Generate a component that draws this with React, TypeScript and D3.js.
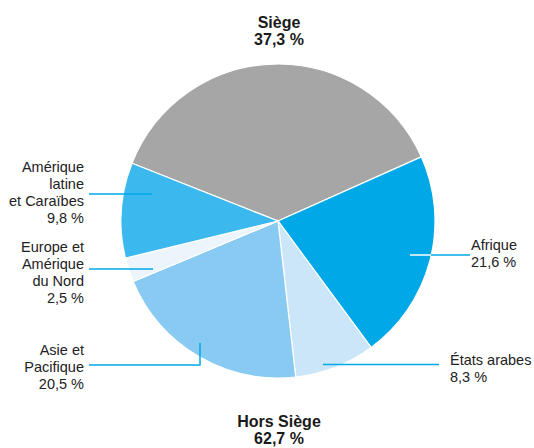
import React from "react";
import * as d3 from "d3";

const categories = ["Siège", "Afrique", "États arabes", "Asie et Pacifique", "Europe et Amérique du Nord", "Amérique latine et Caraïbes"];
const values = [37.3, 21.6, 8.3, 20.5, 2.5, 9.8];
const colors = ["#a6a6a6", "#00a8e8", "#cbe6f8", "#88caf2", "#ecf5fc", "#3bb9ee"];
const labelLines = [
  [],
  ["Afrique", "21,6 %"],
  ["États arabes", "8,3 %"],
  ["Asie et", "Pacifique", "20,5 %"],
  ["Europe et", "Amérique", "du Nord", "2,5 %"],
  ["Amérique", "latine", "et Caraïbes", "9,8 %"],
];
const titleTop = ["Siège", "37,3 %"];
const titleBottom = ["Hors Siège", "62,7 %"];

const W = 534, H = 448;
const cx = 278, cy = 221, R = 157;
const start = (-68.4 * Math.PI) / 180;

const layout: any[] = [
  null,
  { x: 471, y: 250, anchor: "start", line: [[410, 255], [470, 255]], inner: 431 },
  { x: 450, y: 365, anchor: "start", line: [[323, 364.5], [439, 364.5]] },
  { x: 84, y: 355, anchor: "end", line: [[89, 365], [200, 365], [200, 343]] },
  { x: 84, y: 252, anchor: "end", line: [[89, 269], [153, 269]] },
  { x: 84, y: 172, anchor: "end", line: [[89, 194], [152, 194]] },
];

export default function App() {
  const pie = d3.pie<number>().sort(null).value((d) => d).startAngle(start).endAngle(start + 2 * Math.PI);
  const arcs = pie(values);
  const arc = d3.arc<d3.PieArcDatum<number>>().innerRadius(0).outerRadius(R);
  const font = "'Liberation Sans', Arial, sans-serif";
  return (
    <svg width={W} height={H} style={{ position: "absolute", left: 0, top: 0, background: "#fff" }}>
      <g transform={`translate(${cx},${cy})`}>
        {arcs.map((a, i) => (
          <path key={i} d={arc(a) || ""} fill={colors[i]} stroke="#fff" strokeWidth={1.2} />
        ))}
      </g>
      {layout.map((l, i) => {
        if (!l) return null;
        const pts = l.line;
        const path = d3.line()(pts) || "";
        return (
          <g key={i}>
            {l.inner ? (
              <>
                <line x1={pts[0][0]} y1={pts[0][1]} x2={l.inner} y2={pts[0][1]} stroke="#fff" strokeWidth={1.5} />
                <line x1={l.inner} y1={pts[0][1]} x2={pts[1][0]} y2={pts[1][1]} stroke="#00a8e8" strokeWidth={1.5} />
              </>
            ) : (
              <path d={path} fill="none" stroke="#00a8e8" strokeWidth={1.5} />
            )}
            {labelLines[i].map((t, j) => (
              <text
                key={j}
                x={l.x}
                y={l.y + j * 17}
                textAnchor={l.anchor === "end" ? "end" : "start"}
                fontFamily={font}
                fontSize={14.5}
                fill="#222"
              >
                {t}
              </text>
            ))}
          </g>
        );
      })}
      {titleTop.map((t, j) => (
        <text key={"t" + j} x={279} y={27.5 + j * 17.5} textAnchor="middle" fontFamily={font} fontWeight="bold" fontSize={16} fill="#1a1a1a">
          {t}
        </text>
      ))}
      {titleBottom.map((t, j) => (
        <text key={"b" + j} x={279} y={426.5 + j * 17.5} textAnchor="middle" fontFamily={font} fontWeight="bold" fontSize={16} fill="#1a1a1a">
          {t}
        </text>
      ))}
    </svg>
  );
}
